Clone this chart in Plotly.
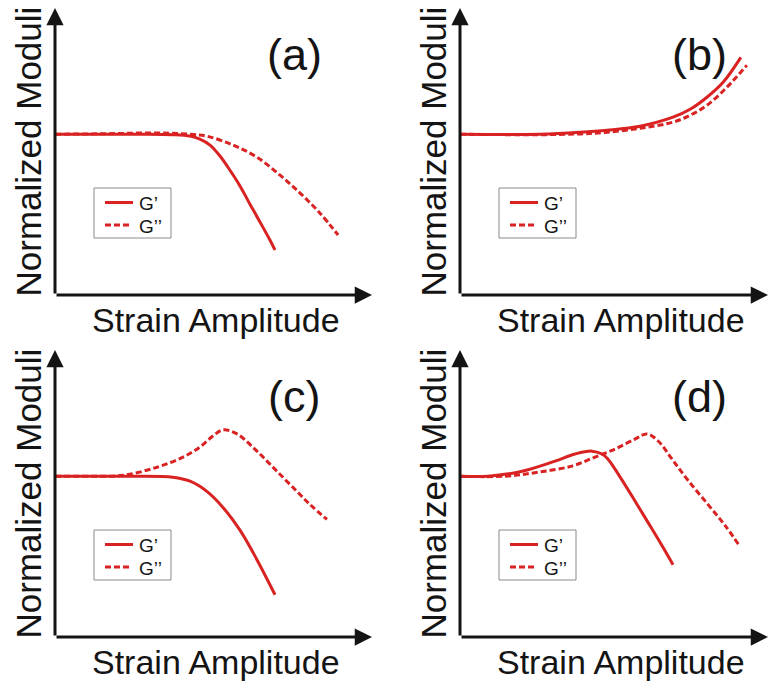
import plotly.graph_objects as go

# ---- curve data: strain amplitude (arb. units) vs normalized moduli (plateau = 1) ----
# (a) strain thinning
a_gp_x  = [0, 1.42, 2.68, 3.72, 4.26, 4.57, 4.89, 5.21, 5.52, 5.84, 6.15, 6.47, 6.78, 6.94]
a_gp_y  = [1.0, 1.0, 1.0, 0.997, 0.988, 0.969, 0.932, 0.863, 0.776, 0.677, 0.565, 0.453, 0.342, 0.280]
a_gpp_x = [0, 1.64, 3.22, 4.26, 4.79, 5.62, 6.37, 7.10, 7.73, 8.36, 8.93]
a_gpp_y = [1.0, 1.003, 1.008, 1.0, 0.988, 0.932, 0.857, 0.745, 0.634, 0.509, 0.373]

# (b) strain hardening
b_gp_x  = [0, 2.52, 3.79, 4.64, 5.68, 6.72, 7.26, 7.79, 8.30, 8.86]
b_gp_y  = [1.0, 1.0, 1.012, 1.025, 1.050, 1.106, 1.155, 1.230, 1.323, 1.478]
b_gpp_x = [0, 2.52, 3.79, 4.64, 5.68, 6.72, 7.26, 7.79, 8.42, 9.05]
b_gpp_y = [1.0, 0.997, 1.002, 1.012, 1.037, 1.075, 1.118, 1.180, 1.292, 1.429]

# (c) weak strain overshoot
c_gp_x  = [0, 1.10, 2.37, 3.72, 4.26, 4.79, 5.30, 5.84, 6.37, 6.94]
c_gp_y  = [1.0, 1.0, 1.0, 0.994, 0.969, 0.906, 0.806, 0.663, 0.481, 0.263]
c_gpp_x = [0, 1.10, 2.15, 3.22, 4.04, 4.57, 4.98, 5.30, 5.74, 6.37, 7.00, 7.63, 8.04, 8.58]
c_gpp_y = [1.0, 1.0, 1.006, 1.056, 1.119, 1.181, 1.250, 1.288, 1.263, 1.156, 1.031, 0.906, 0.825, 0.731]

# (d) strong strain overshoot
d_gp_x  = [0, 0.88, 1.96, 3.00, 3.63, 4.16, 4.48, 4.67, 4.89, 5.43, 5.93, 6.37, 6.72]
d_gp_y  = [1.0, 1.0, 1.031, 1.094, 1.138, 1.156, 1.138, 1.106, 1.044, 0.875, 0.713, 0.569, 0.450]
d_gpp_x = [0, 1.42, 2.46, 3.53, 4.26, 4.89, 5.52, 5.90, 6.25, 6.69, 7.19, 7.82, 8.36, 8.83]
d_gpp_y = [1.0, 1.0, 1.025, 1.063, 1.119, 1.169, 1.231, 1.263, 1.219, 1.106, 0.975, 0.825, 0.694, 0.563]

panel_labels = ["(a)", "(b)", "(c)", "(d)"]
series_names = ["G\u2019", "G\u2019\u2019"]
x_title = "Strain Amplitude"
y_title = "Normalized Moduli"

W, H = 768, 684
RED = "#d92222"
INK = "#141414"
FONT = "Arial, Liberation Sans, sans-serif"

# pixel boxes of the four panels: (left, right, top, bottom) = origin to arrow tips
boxes = [(55, 372, 8, 295), (460, 768, 8, 295), (55, 372, 350, 637), (460, 768, 350, 637)]
PX_PER_X = 31.7          # pixels per strain unit
Y_TOP = 1.785            # top of the y axis in moduli units

curves = [
    (a_gp_x, a_gp_y, a_gpp_x, a_gpp_y),
    (b_gp_x, b_gp_y, b_gpp_x, b_gpp_y),
    (c_gp_x, c_gp_y, c_gpp_x, c_gpp_y),
    (d_gp_x, d_gp_y, d_gpp_x, d_gpp_y),
]
line_styles = [dict(color=RED, width=3), dict(color=RED, width=3, dash="6px,3px")]


def px(x):
    return x / W


def py(y):
    return 1 - y / H


fig = go.Figure()
annotations = []
shapes = []
layout_axes = {}

for i, ((l, r, t, b), (gx, gy, ggx, ggy)) in enumerate(zip(boxes, curves)):
    n = "" if i == 0 else str(i + 1)
    xref, yref = "x" + n, "y" + n
    x_max = (r - l) / PX_PER_X

    layout_axes["xaxis" + n] = dict(domain=[px(l), px(r)], range=[0, x_max], visible=False,
                                    anchor=yref, fixedrange=True)
    layout_axes["yaxis" + n] = dict(domain=[py(b), py(t)], range=[0, Y_TOP], visible=False,
                                    anchor=xref, fixedrange=True)

    for (xs, ys), name, style in zip([(gx, gy), (ggx, ggy)], series_names, line_styles):
        fig.add_trace(go.Scatter(x=xs, y=ys, mode="lines", name=name, showlegend=False,
                                 line=dict(shape="spline", smoothing=1.0, **style),
                                 xaxis=xref, yaxis=yref))

    # arrowed axes
    for tip in [(x_max, 0), (0, Y_TOP)]:
        annotations.append(dict(x=tip[0], y=tip[1], ax=0, ay=0, xref=xref, yref=yref,
                                axref=xref, ayref=yref, showarrow=True, arrowhead=2,
                                arrowsize=1.15, arrowwidth=3, arrowcolor=INK, text=""))

    # key box with line samples and series names
    shapes.append(dict(type="rect", xref="paper", yref="paper",
                       x0=px(l + 39), x1=px(l + 116), y0=py(t + 180), y1=py(t + 230),
                       line=dict(color="#8a8a8a", width=1), fillcolor="white", layer="below"))
    for k, (name, style) in enumerate(zip(series_names, line_styles)):
        yk = t + 194.5 + 22.5 * k
        shapes.append(dict(type="line", xref="paper", yref="paper",
                           x0=px(l + 50), x1=px(l + 78) if k == 0 else px(l + 76),
                           y0=py(yk), y1=py(yk), line=style))
        annotations.append(dict(x=px(l + 82), y=py(yk + 1), xref="paper", yref="paper",
                                text=name, showarrow=False, xanchor="left", yanchor="middle",
                                font=dict(family=FONT, size=19, color=INK)))

    # panel label
    annotations.append(dict(x=px(l + 239), y=py(t + 46), xref="paper", yref="paper",
                            text=panel_labels[i], showarrow=False, xanchor="center", yanchor="middle",
                            font=dict(family=FONT, size=45, color=INK)))
    # axis titles
    annotations.append(dict(x=px(l + 161), y=py(b + 25), xref="paper", yref="paper",
                            text=x_title, showarrow=False, xanchor="center", yanchor="middle",
                            font=dict(family=FONT, size=34, color=INK)))
    annotations.append(dict(x=px(l - 27), y=py((t + b) / 2), xref="paper", yref="paper",
                            text=y_title, showarrow=False, xanchor="center", yanchor="middle",
                            textangle=-90, font=dict(family=FONT, size=35, color=INK)))

fig.update_layout(width=W, height=H, margin=dict(l=0, r=0, t=0, b=0),
                  paper_bgcolor="white", plot_bgcolor="white", showlegend=False,
                  annotations=annotations, shapes=shapes, **layout_axes)

fig.write_html("out.html")
